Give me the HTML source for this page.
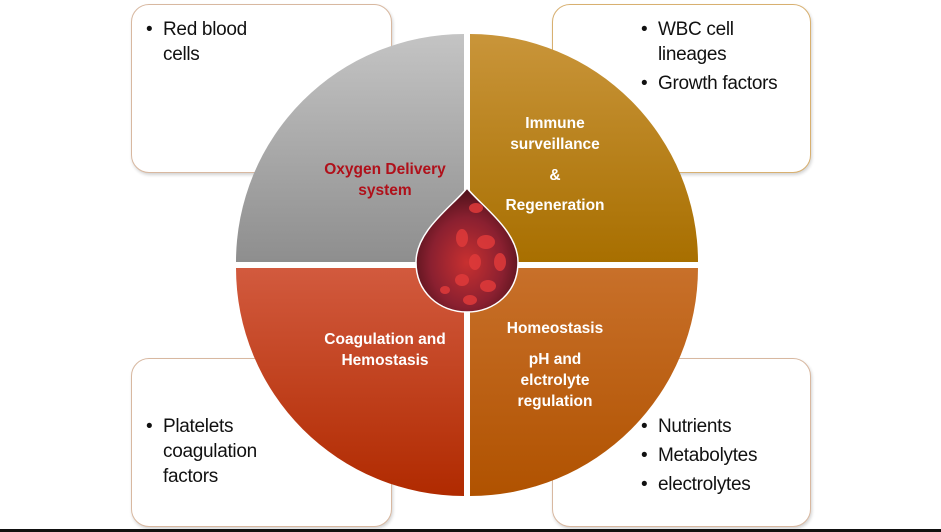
<!DOCTYPE html>
<html><head><style>
html,body{margin:0;padding:0;background:#fff;}
body{width:941px;height:532px;position:relative;overflow:hidden;font-family:"Liberation Sans",sans-serif;}
.box{position:absolute;background:#fff;border:1px solid #d8b8a0;border-radius:18px;box-shadow:1px 2px 3px rgba(0,0,0,0.18);}
.b{position:absolute;font-size:19px;color:#111;line-height:25px;letter-spacing:-0.3px;}
.b div{padding-left:17px;text-indent:-17px;margin-bottom:4px;}
.b div:before{content:"•";display:inline-block;width:17px;text-indent:0;}
.l{position:absolute;font-weight:bold;font-size:15.5px;color:#fff;text-align:center;line-height:21px;}
</style></head><body>
<div class="box" style="left:131px;top:4px;width:259px;height:167px;"></div>
<div class="box" style="left:552px;top:4px;width:257px;height:167px;border-color:#d8b070;"></div>
<div class="box" style="left:131px;top:358px;width:259px;height:167px;"></div>
<div class="box" style="left:552px;top:358px;width:257px;height:167px;"></div>
<svg width="941" height="532" style="position:absolute;left:0;top:0">
<defs>
<linearGradient id="g1" x1="0" y1="0" x2="0" y2="1"><stop offset="0" stop-color="#c4c4c4"/><stop offset="1" stop-color="#8e8e8e"/></linearGradient>
<linearGradient id="g2" x1="0" y1="0" x2="0" y2="1"><stop offset="0" stop-color="#c9953a"/><stop offset="1" stop-color="#a86f00"/></linearGradient>
<linearGradient id="g3" x1="0" y1="0" x2="0" y2="1"><stop offset="0" stop-color="#d25a3e"/><stop offset="1" stop-color="#b02a00"/></linearGradient>
<linearGradient id="g4" x1="0" y1="0" x2="0" y2="1"><stop offset="0" stop-color="#c8702a"/><stop offset="1" stop-color="#b05200"/></linearGradient>
<radialGradient id="dr" cx="0.5" cy="0.6" r="0.6"><stop offset="0" stop-color="#c83030"/><stop offset="0.6" stop-color="#8a2030"/><stop offset="1" stop-color="#4a1018"/></radialGradient>
</defs>
<path d="M464,262 L464,34 A228,228 0 0 0 236,262 Z" fill="url(#g1)"/>
<path d="M470,262 L470,34 A228,228 0 0 1 698,262 Z" fill="url(#g2)"/>
<path d="M464,268 L236,268 A228,228 0 0 0 464,496 Z" fill="url(#g3)"/>
<path d="M470,268 L698,268 A228,228 0 0 1 470,496 Z" fill="url(#g4)"/>
<path d="M467,188 C480,205 518,230 518,262 C518,292 495,312 467,312 C439,312 416,292 416,262 C416,230 454,205 467,188 Z" fill="url(#dr)" stroke="#fff" stroke-width="1.5"/>
<g fill="#e03a3a" opacity="0.85">
<ellipse cx="476" cy="208" rx="7" ry="5"/><ellipse cx="462" cy="238" rx="6" ry="9"/><ellipse cx="486" cy="242" rx="9" ry="7"/>
<ellipse cx="500" cy="262" rx="6" ry="9"/><ellipse cx="475" cy="262" rx="6" ry="8"/><ellipse cx="462" cy="280" rx="7" ry="6"/>
<ellipse cx="488" cy="286" rx="8" ry="6"/><ellipse cx="470" cy="300" rx="7" ry="5"/><ellipse cx="445" cy="290" rx="5" ry="4"/>
</g>
</svg>
<div class="b" style="left:146px;top:17px;"><div>Red blood<br>cells</div></div>
<div class="b" style="left:641px;top:17px;"><div>WBC cell<br>lineages</div><div>Growth factors</div></div>
<div class="b" style="left:146px;top:414px;"><div>Platelets<br>coagulation<br>factors</div></div>
<div class="b" style="left:641px;top:414px;line-height:25px;"><div>Nutrients</div><div>Metabolytes</div><div>electrolytes</div></div>
<div class="l" style="left:305px;top:159px;width:160px;color:#b0101a;">Oxygen Delivery<br>system</div>
<div class="l" style="left:480px;top:113px;width:150px;">Immune<br>surveillance</div>
<div class="l" style="left:480px;top:165px;width:150px;">&amp;</div>
<div class="l" style="left:480px;top:195px;width:150px;">Regeneration</div>
<div class="l" style="left:305px;top:329px;width:160px;">Coagulation and<br>Hemostasis</div>
<div class="l" style="left:480px;top:318px;width:150px;">Homeostasis</div>
<div class="l" style="left:480px;top:349px;width:150px;">pH and<br>elctrolyte<br>regulation</div>
<div style="position:absolute;left:0;top:529px;width:941px;height:3px;background:#111;"></div>
</body></html>
